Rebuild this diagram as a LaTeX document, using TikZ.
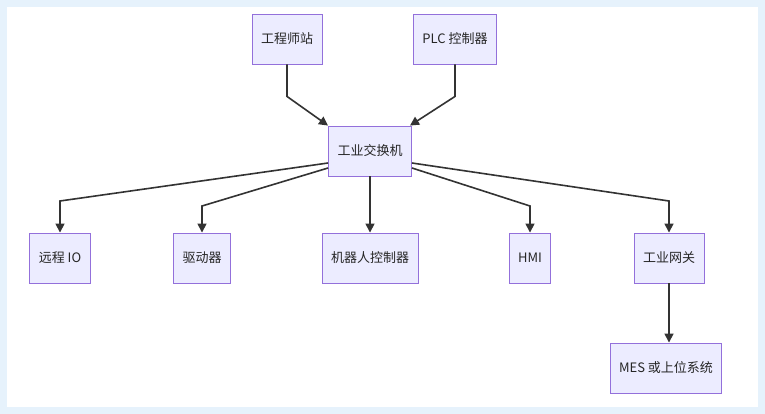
\documentclass[tikz,border=0pt]{standalone}
\usepackage{fontspec}
\setmainfont{Noto Sans CJK SC}
\usetikzlibrary{arrows.meta}
\definecolor{boxfill}{HTML}{ECECFF}
\definecolor{boxline}{HTML}{9370DB}
\definecolor{edge}{HTML}{333333}
\definecolor{frame}{HTML}{E6F2FC}
\begin{document}
\begin{tikzpicture}[x=1pt, y=-1pt,
	box/.style={draw=boxline, fill=boxfill, line width=0.9pt, minimum height=50pt, inner xsep=9pt, font=\fontsize{13}{15}\selectfont, text=black!85},
	link/.style={draw=edge, line width=1.6pt, -{Triangle[length=9pt, width=9pt]}}]
	\fill[frame] (0,0) rectangle (765,414);
	\fill[white] (7,7) rectangle (758,407);
	
	\node[box] (station) at (287,39) {工程师站};
	\node[box] (plc) at (455,39) {PLC 控制器};
	\node[box] (switch) at (370,151) {工业交换机};
	\node[box] (rio) at (60,258) {远程 IO};
	\node[box] (drive) at (202,258) {驱动器};
	\node[box] (robot) at (370,258) {机器人控制器};
	\node[box] (hmi) at (530,258) {HMI};
	\node[box] (gate) at (669,258) {工业网关};
	\node[box] (mes) at (666,368) {MES 或上位系统};
	
	\draw[link] (station.south) -- ++(0,32) -- (switch.north west -| 328,0);
	\draw[link] (plc.south) -- ++(0,32) -- (switch.north east -| 410,0);
	\draw[link] (switch.west |- 0,163) -- (60,201) -- (rio.north);
	\draw[link] (switch.west |- 0,168) -- (202,206) -- (drive.north);
	\draw[link] (switch.south) -- (robot.north);
	\draw[link] (switch.east |- 0,168) -- (530,206) -- (hmi.north);
	\draw[link] (switch.east |- 0,163) -- (669,201) -- (gate.north);
	\draw[link] (gate.south) -- (gate.south |- mes.north);
\end{tikzpicture}
\end{document}
